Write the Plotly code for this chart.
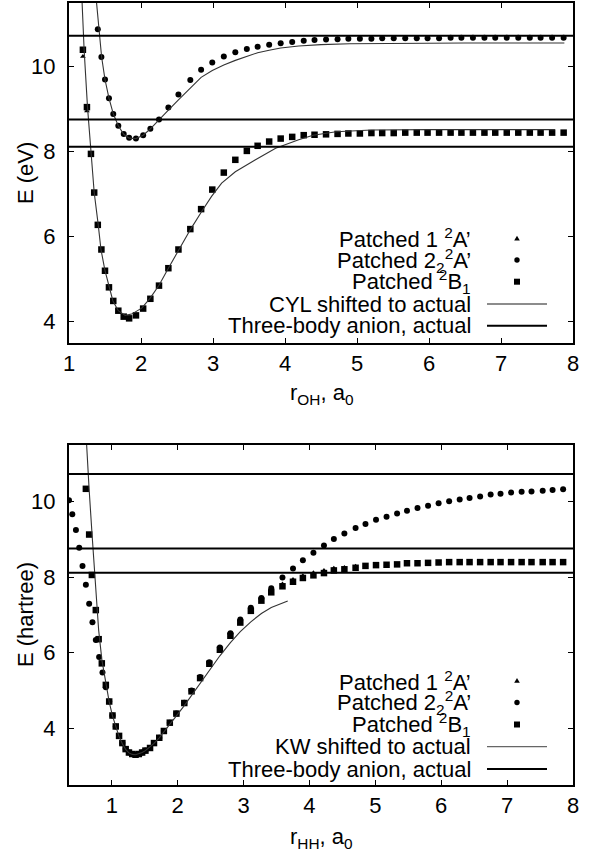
import plotly.graph_objects as go

W, H = 601, 859
FONT = "Liberation Sans"

# ---------------- top panel data (r_OH) ----------------
tail_top_x = [4.26, 4.41, 4.57, 4.73, 4.88, 5.04, 5.20, 5.35, 5.51, 5.67, 5.83, 5.98,
              6.14, 6.30, 6.45, 6.61, 6.77, 6.92, 7.08, 7.24, 7.40, 7.55, 7.71, 7.87]

top_a2_x = [1.40, 1.45, 1.50, 1.555, 1.615, 1.685, 1.76, 1.835, 1.93, 2.03, 2.13, 2.25,
            2.38, 2.52, 2.685, 2.835, 2.99, 3.15, 3.31, 3.47, 3.62, 3.78, 3.94, 4.10] + tail_top_x
top_a2_y = [10.88, 10.23, 9.70, 9.26, 8.89, 8.61, 8.42, 8.33, 8.31, 8.39, 8.54, 8.76,
            9.04, 9.35, 9.69, 9.93, 10.10, 10.24, 10.34, 10.42, 10.47, 10.52, 10.55, 10.58,
            10.61, 10.63, 10.64, 10.65, 10.66, 10.66, 10.66, 10.67, 10.67, 10.67, 10.67, 10.67,
            10.67, 10.68, 10.68, 10.68, 10.68, 10.68, 10.68, 10.68, 10.68, 10.68, 10.68, 10.68]

top_b1_x = [1.193, 1.249, 1.305, 1.35, 1.40, 1.45, 1.50, 1.555, 1.615, 1.685, 1.76, 1.835,
            1.93, 2.03, 2.13, 2.25, 2.38, 2.52, 2.685, 2.835, 2.99, 3.15, 3.31, 3.47,
            3.62, 3.78, 3.94, 4.10] + tail_top_x
top_b1_y = [10.40, 9.05, 7.95, 7.04, 6.28, 5.70, 5.20, 4.81, 4.49, 4.26, 4.12, 4.08,
            4.15, 4.31, 4.54, 4.85, 5.26, 5.70, 6.18, 6.65, 7.11, 7.51, 7.81, 8.02,
            8.14, 8.24, 8.31, 8.35,
            8.39, 8.40, 8.41, 8.42, 8.43, 8.43, 8.44, 8.44, 8.44, 8.45, 8.45, 8.45,
            8.45, 8.45, 8.45, 8.45, 8.45, 8.45, 8.45, 8.45, 8.45, 8.45, 8.45, 8.45]
top_a1_x = top_b1_x
top_a1_y = [10.24, 8.96] + top_b1_y[2:]

cyl_a_x = [1.372, 1.383, 1.417, 1.453, 1.50, 1.555, 1.615, 1.685, 1.76, 1.835, 1.93, 2.03,
           2.13, 2.25, 2.38, 2.52, 2.685, 2.835, 2.99, 3.15, 3.31, 3.47, 3.62, 3.78,
           3.94, 4.19, 4.50, 4.90, 5.50, 6.50, 7.88]
cyl_a_y = [11.7, 11.5, 10.88, 10.23, 9.70, 9.26, 8.89, 8.61, 8.41, 8.32, 8.31, 8.39,
           8.54, 8.76, 8.98, 9.22, 9.51, 9.75, 9.91, 10.04, 10.15, 10.24, 10.33, 10.39,
           10.44, 10.49, 10.52, 10.54, 10.55, 10.56, 10.56]

cyl_b_x = [1.177, 1.182, 1.21, 1.257, 1.305, 1.35, 1.406, 1.444, 1.50, 1.555, 1.61, 1.685,
           1.78, 1.87, 2.01, 2.125, 2.25, 2.38, 2.52, 2.69, 2.845, 2.98, 3.12, 3.31,
           3.59, 3.87, 4.19, 4.39, 4.71, 5.20, 6.00, 7.75]
cyl_b_y = [11.7, 11.5, 10.40, 9.05, 7.95, 7.04, 6.28, 5.70, 5.20, 4.81, 4.49, 4.26,
           4.15, 4.18, 4.32, 4.55, 4.86, 5.26, 5.69, 6.18, 6.60, 6.95, 7.26, 7.53,
           7.81, 8.08, 8.28, 8.39, 8.47, 8.51, 8.52, 8.52]

# ---------------- bottom panel data (r_HH) ----------------
tail_bot_x = [4.22, 4.37, 4.53, 4.70, 4.85, 5.01, 5.17, 5.33, 5.48, 5.64, 5.80, 5.96,
              6.12, 6.28, 6.43, 6.59, 6.75, 6.90, 7.06, 7.22, 7.37, 7.54, 7.69, 7.85]

bot_b1_x = [0.606, 0.656, 0.697, 0.757, 0.80, 0.848, 0.909, 0.96, 1.01, 1.06,
            1.11, 1.16, 1.21, 1.26, 1.31, 1.36, 1.41, 1.46, 1.51, 1.58,
            1.64, 1.72, 1.79, 1.88, 1.98, 2.10, 2.21, 2.34, 2.48, 2.64,
            2.80, 2.95, 3.11, 3.27, 3.42, 3.59, 3.75, 3.90, 4.06] + tail_bot_x
bot_b1_y = [10.34, 9.13, 8.06, 7.13, 6.36, 5.72, 5.15, 4.71, 4.34, 4.05,
            3.80, 3.61, 3.45, 3.36, 3.32, 3.30, 3.32, 3.36, 3.41, 3.48,
            3.61, 3.75, 3.93, 4.15, 4.39, 4.67, 4.98, 5.33, 5.71, 6.08,
            6.45, 6.80, 7.11, 7.38, 7.60, 7.76, 7.88, 7.98, 8.05,
            8.11, 8.18, 8.21, 8.25, 8.30, 8.32, 8.33, 8.34, 8.37, 8.37, 8.38, 8.39,
            8.40, 8.40, 8.40, 8.40, 8.40, 8.40, 8.40, 8.40, 8.40, 8.40, 8.40, 8.40]

bot_a1_x = bot_b1_x
bot_a1_y = [10.34, 9.13, 8.06, 7.13, 6.36, 5.72, 5.15, 4.71, 4.34, 4.05,
            3.80, 3.61, 3.45, 3.36, 3.32, 3.30, 3.32, 3.36, 3.41, 3.48,
            3.61, 3.75, 3.93, 4.15, 4.39, 4.67, 4.98, 5.33, 5.71, 6.08,
            6.45, 6.80, 7.16, 7.43, 7.66, 7.82, 7.94, 8.04, 8.12,
            8.18, 8.24, 8.26, 8.29, 8.31, 8.32, 8.33, 8.34, 8.37, 8.37, 8.38, 8.39,
            8.40, 8.40, 8.40, 8.40, 8.40, 8.40, 8.40, 8.40, 8.40, 8.40, 8.40, 8.40]

bot_a2_x = [0.35, 0.40, 0.455, 0.505, 0.555, 0.606, 0.656, 0.706, 0.757, 0.807, 0.858, 0.909, 0.96,
            1.01, 1.06, 1.11, 1.16, 1.21, 1.26, 1.31, 1.36, 1.41, 1.46,
            1.51, 1.58, 1.64, 1.72, 1.79, 1.88, 1.98, 2.10, 2.21, 2.34,
            2.48, 2.64, 2.80, 2.95, 3.11, 3.27, 3.42, 3.59, 3.75, 3.90, 4.06] + tail_bot_x
bot_a2_y = [10.04, 9.67, 9.25, 8.78, 8.30, 7.80, 7.30, 6.81, 6.34, 5.89, 5.48, 5.09, 4.71,
            4.34, 4.05, 3.80, 3.61, 3.45, 3.36, 3.32, 3.30, 3.32, 3.36,
            3.41, 3.48, 3.61, 3.75, 3.93, 4.15, 4.39, 4.68, 5.00, 5.36,
            5.75, 6.14, 6.52, 6.88, 7.19, 7.45, 7.71, 7.99, 8.23, 8.45, 8.65,
            8.84, 9.01, 9.16, 9.30, 9.41, 9.52, 9.60, 9.69, 9.76, 9.83, 9.89, 9.96,
            10.01, 10.06, 10.10, 10.14, 10.19, 10.21, 10.24, 10.26, 10.27, 10.29, 10.31, 10.33]

kw_x = [0.605, 0.615, 0.655, 0.70, 0.74, 0.77, 0.80, 0.85, 0.91, 0.96, 1.01, 1.06,
        1.11, 1.16, 1.21, 1.26, 1.31, 1.36, 1.41, 1.46, 1.51, 1.58, 1.64, 1.72,
        1.79, 1.88, 1.98, 2.10, 2.21, 2.34, 2.48, 2.64, 2.80, 2.95, 3.11, 3.27,
        3.42, 3.55, 3.67]
kw_y = [11.9, 11.5, 10.34, 9.13, 8.06, 7.14, 6.60, 5.80, 5.15, 4.70, 4.33, 4.03,
        3.78, 3.59, 3.44, 3.35, 3.31, 3.30, 3.32, 3.36, 3.41, 3.50, 3.60, 3.75,
        3.90, 4.10, 4.33, 4.60, 4.87, 5.18, 5.55, 5.92, 6.27, 6.56, 6.82, 7.04,
        7.20, 7.29, 7.37]

anion_levels = [10.73, 8.76, 8.12]

top_xrange = [1, 8]
top_yrange = [3.5, 11.5]
bot_xrange = [0.35, 8]
bot_yrange = [2.5, 11.5]
xticks = [1, 2, 3, 4, 5, 6, 7, 8]
yticks = [4, 6, 8, 10]

legend_top = ["Patched 1 <sup>2</sup>A’", "Patched 2<sub>2</sub><sup>2</sup>A’",
              "Patched <sup>2</sup>B<sub>1</sub>", "CYL shifted to actual",
              "Three-body anion, actual"]
legend_bot = ["Patched 1 <sup>2</sup>A’", "Patched 2<sub>2</sub><sup>2</sup>A’",
              "Patched <sup>2</sup>B<sub>1</sub>", "KW shifted to actual",
              "Three-body anion, actual"]

# ---------------- figure ----------------
def px(x):
    return x / W

def py(y):
    return 1 - y / H

fig = go.Figure()

CURVE = dict(color="#333333", width=1.1)
ANION = dict(color="black", width=2)

def add_panel(xa, ya, a1x, a1y, a2x, a2y, b1x, b1y, curves, xr):
    fig.add_trace(go.Scatter(x=a1x, y=a1y, mode="markers", xaxis=xa, yaxis=ya,
                             marker=dict(symbol="triangle-up", size=5, color="black")))
    fig.add_trace(go.Scatter(x=a2x, y=a2y, mode="markers", xaxis=xa, yaxis=ya,
                             marker=dict(symbol="circle", size=6, color="black")))
    fig.add_trace(go.Scatter(x=b1x, y=b1y, mode="markers", xaxis=xa, yaxis=ya,
                             marker=dict(symbol="square", size=6.5, color="black")))
    for cx, cy in curves:
        fig.add_trace(go.Scatter(x=cx, y=cy, mode="lines", xaxis=xa, yaxis=ya, line=CURVE))
    for lev in anion_levels:
        fig.add_trace(go.Scatter(x=xr, y=[lev, lev], mode="lines", xaxis=xa, yaxis=ya, line=ANION))

add_panel("x", "y", top_a1_x, top_a1_y, top_a2_x, top_a2_y, top_b1_x, top_b1_y,
          [(cyl_a_x, cyl_a_y), (cyl_b_x, cyl_b_y)], top_xrange)
add_panel("x2", "y2", bot_a1_x, bot_a1_y, bot_a2_x, bot_a2_y, bot_b1_x, bot_b1_y,
          [(kw_x, kw_y)], bot_xrange)

tickfont = dict(family=FONT, size=22, color="black")
axis_common = dict(showline=True, linewidth=2, linecolor="black", mirror="allticks",
                   ticks="inside", ticklen=5, tickwidth=1, tickcolor="black",
                   showgrid=False, zeroline=False, tickfont=tickfont, automargin=False)

xdom = [px(69), px(573)]
fig.update_layout(
    width=W, height=H, autosize=False, margin=dict(l=0, r=0, t=0, b=0, pad=0),
    paper_bgcolor="white", plot_bgcolor="white", showlegend=False,
    font=dict(family=FONT, size=22, color="black"),
    xaxis=dict(domain=xdom, range=top_xrange, tickvals=xticks, anchor="y", **axis_common),
    yaxis=dict(domain=[py(343), py(3)], range=top_yrange, tickvals=yticks, anchor="x",
               ticklabelstandoff=7, **axis_common),
    xaxis2=dict(domain=xdom, range=bot_xrange, tickvals=xticks, anchor="y2", **axis_common),
    yaxis2=dict(domain=[py(785), py(445)], range=bot_yrange, tickvals=yticks, anchor="x2",
                ticklabelstandoff=7, **axis_common),
)

ann = []
shapes = []

def legend(rows_y, labels):
    for yy, lab in zip(rows_y, labels):
        ann.append(dict(x=px(472.7), y=py(yy), xref="paper", yref="paper", text=lab,
                        showarrow=False, xanchor="right", yanchor="middle",
                        font=dict(family=FONT, size=22, color="black")))
    mx = 517
    t = rows_y[0]
    shapes.append(dict(type="path", xref="paper", yref="paper",
                       path=f"M {px(mx-2.8)} {py(t+2.2)} L {px(mx+2.8)} {py(t+2.2)} L {px(mx)} {py(t-2.6)} Z",
                       fillcolor="black", line=dict(width=0)))
    c = rows_y[1]
    shapes.append(dict(type="circle", xref="paper", yref="paper",
                       x0=px(mx-2.7), x1=px(mx+2.7), y0=py(c+2.7), y1=py(c-2.7),
                       fillcolor="black", line=dict(width=0)))
    s = rows_y[2]
    shapes.append(dict(type="rect", xref="paper", yref="paper",
                       x0=px(mx-3), x1=px(mx+3), y0=py(s+3), y1=py(s-3),
                       fillcolor="black", line=dict(width=0)))
    shapes.append(dict(type="line", xref="paper", yref="paper",
                       x0=px(487), x1=px(547), y0=py(rows_y[3]), y1=py(rows_y[3]),
                       line=dict(color="#666666", width=1.3)))
    shapes.append(dict(type="line", xref="paper", yref="paper",
                       x0=px(487), x1=px(547), y0=py(rows_y[4]), y1=py(rows_y[4]),
                       line=dict(color="black", width=2)))

legend([238.3, 260, 281.7, 304, 325.7], legend_top)
legend([680.5, 702.5, 724.5, 746.7, 769], legend_bot)

# axis titles
ann.append(dict(x=px(25), y=py(173), xref="paper", yref="paper", text="E (eV)", textangle=-90,
                showarrow=False, xanchor="center", yanchor="middle", font=dict(family=FONT, size=22)))
ann.append(dict(x=px(25), y=py(615), xref="paper", yref="paper", text="E (hartree)", textangle=-90,
                showarrow=False, xanchor="center", yanchor="middle", font=dict(family=FONT, size=22)))
ann.append(dict(x=px(321), y=py(394), xref="paper", yref="paper", text="r<sub>OH</sub>, a<sub>0</sub>",
                showarrow=False, xanchor="center", yanchor="middle", font=dict(family=FONT, size=22)))
ann.append(dict(x=px(321), y=py(838), xref="paper", yref="paper", text="r<sub>HH</sub>, a<sub>0</sub>",
                showarrow=False, xanchor="center", yanchor="middle", font=dict(family=FONT, size=22)))

fig.update_layout(annotations=ann, shapes=shapes)
fig.write_html("out.html", config={"responsive": False, "displayModeBar": False},
               post_script="document.body.style.margin='0';document.body.style.overflow='hidden';")
